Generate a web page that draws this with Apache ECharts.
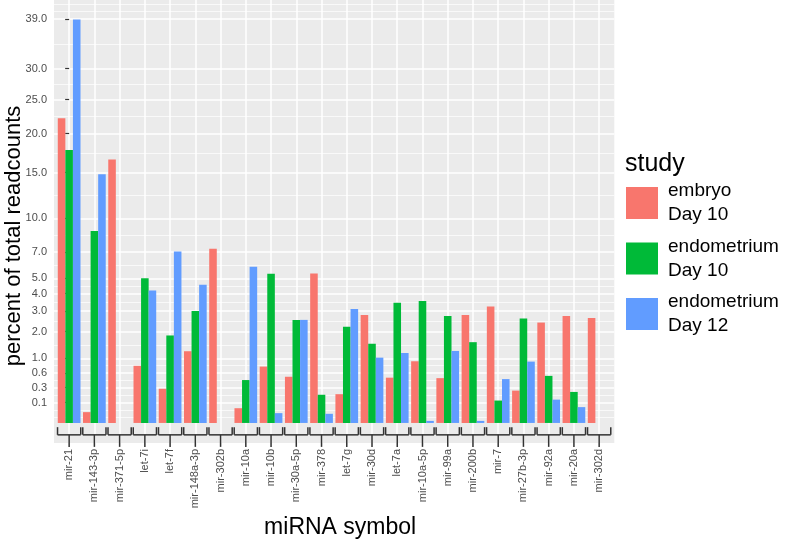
<!DOCTYPE html>
<html>
<head>
<meta charset="UTF-8">
<title>miRNA readcounts</title>
<script src="https://cdn.jsdelivr.net/npm/echarts@6/dist/echarts.min.js"></script>
<style>
  html, body { margin: 0; padding: 0; background: #fff; }
  #main { width: 786px; height: 541px; }
</style>
</head>
<body>
<div id="main"></div>
<script>
// categories on the x axis
var mirnas = ['mir-21', 'mir-143-3p', 'mir-371-5p', 'let-7i', 'let-7f', 'mir-148a-3p', 'mir-302b',
  'mir-10a', 'mir-10b', 'mir-30a-5p', 'mir-378', 'let-7g', 'mir-30d', 'let-7a', 'mir-10a-5p',
  'mir-99a', 'mir-200b', 'mir-7', 'mir-27b-3p', 'mir-92a', 'mir-20a', 'mir-302d'];

// percent of total readcounts (null = no bar)
var embryoDay10 = [22.2, 0.028, 16.6, 0.78, 0.28, 1.23, 7.25, 0.052, 0.76, 0.51, 5.34,
  0.198, 2.78, 0.49, 0.91, 0.48, 2.79, 3.24, 0.25, 2.41, 2.74, 2.63];
var endoDay10 = [17.8, 8.8, null, 5.01, 1.83, 2.99, null, 0.44, 5.32, 2.54, 0.19,
  2.21, 1.50, 3.45, 3.55, 2.73, 1.56, 0.12, 2.61, 0.53, 0.23, null];
var endoDay12 = [38.9, 14.8, null, 4.19, 7.02, 4.56, null, 5.83, 0.023, 2.54, 0.02,
  3.10, 1.02, 1.17, 0.001, 1.24, 0.001, 0.46, 0.90, 0.13, 0.06, null];

// y axis breaks (sqrt scale)
var yBreaks = [0.1, 0.3, 0.6, 1.0, 2.0, 3.0, 4.0, 5.0, 7.0, 10.0, 15.0, 20.0, 25.0, 30.0, 39.0];

var seriesNames = ['embryo\nDay 10', 'endometrium\nDay 10', 'endometrium\nDay 12'];
var colors = ['#F8766D', '#00BA38', '#619CFF'];

// sqrt transform, like scale_y_sqrt
var majorS = yBreaks.map(function (v) { return Math.sqrt(v); });
var minorS = [];
minorS.push(majorS[0] - (majorS[1] - majorS[0]));
minorS.push(majorS[0] - (majorS[1] - majorS[0]) / 2);
for (var i = 0; i < majorS.length - 1; i++) {
  minorS.push((majorS[i] + majorS[i + 1]) / 2);
}
minorS.push(Math.sqrt(40.6), Math.sqrt(42.0));

function toPairs(arr) {
  return arr.map(function (v, i) { return v == null ? [i, '-'] : [i, Math.sqrt(v)]; });
}

var catIdx = mirnas.map(function (c, i) { return i; });

var myChart = echarts.init(document.getElementById('main'));

var barSeries = [embryoDay10, endoDay10, endoDay12].map(function (arr, k) {
  return {
    name: seriesNames[k],
    type: 'bar',
    xAxisIndex: 0,
    yAxisIndex: 0,
    barGap: '0%',
    barCategoryGap: '10%',
    itemStyle: { color: colors[k] },
    data: toPairs(arr)
  };
});

// bracket under each group (the "|___|" marks with centre tick)
barSeries.push({
  type: 'custom',
  xAxisIndex: 0,
  yAxisIndex: 0,
  clip: false,
  silent: true,
  z: 5,
  data: catIdx,
  renderItem: function (params, api) {
    var i = api.value(0);
    var half = 0.46;
    var p1 = api.coord([i - half, -0.065]);
    var p2 = api.coord([i - half, -0.184]);
    var p3 = api.coord([i + half, -0.184]);
    var p4 = api.coord([i + half, -0.065]);
    var c2 = api.coord([i, -0.37]);
    var st = { stroke: '#333333', lineWidth: 1.5 };
    return {
      type: 'group',
      children: [
        { type: 'line', shape: { x1: p1[0], y1: p1[1], x2: p2[0], y2: p2[1] }, style: st },
        { type: 'line', shape: { x1: p2[0], y1: p2[1], x2: p3[0], y2: p3[1] }, style: st },
        { type: 'line', shape: { x1: p3[0], y1: p3[1], x2: p4[0], y2: p4[1] }, style: st },
        { type: 'line', shape: { x1: (p2[0] + p3[0]) / 2, y1: p2[1], x2: c2[0], y2: c2[1] }, style: st }
      ]
    };
  }
});

myChart.setOption({
  animation: false,
  textStyle: { fontFamily: 'Liberation Sans' },
  title: {
    text: 'study',
    left: 625,
    top: 152,
    padding: 0,
    textStyle: { fontSize: 25, fontWeight: 'normal', color: '#000', fontFamily: 'Liberation Sans' }
  },
  legend: {
    orient: 'vertical',
    left: 626,
    top: 179,
    padding: 0,
    itemWidth: 32,
    itemHeight: 32,
    itemGap: 7.5,
    icon: 'rect',
    data: seriesNames,
    textStyle: { fontSize: 19, lineHeight: 24, color: '#000', padding: [0, 0, 0, 5] }
  },
  graphic: [{
    type: 'text',
    x: 14,
    y: 236,
    rotation: Math.PI / 2,
    style: {
      text: 'percent of total readcounts',
      fontSize: 22,
      fontFamily: 'Liberation Sans',
      fill: '#000',
      align: 'center',
      verticalAlign: 'middle'
    }
  }],
  grid: {
    left: 54,
    top: 0,
    width: 560.3,
    height: 443,
    show: true,
    backgroundColor: '#EBEBEB',
    borderWidth: 0,
    containLabel: false,
    outerBoundsMode: 'none'
  },
  xAxis: {
    type: 'value',
    min: -0.6,
    max: 21.6,
    name: 'miRNA symbol',
    nameLocation: 'middle',
    nameGap: 73,
    nameTextStyle: { fontSize: 23, color: '#000', padding: [0, 0, 0, 12] },
    axisLine: { show: false },
    axisTick: { show: false, customValues: catIdx },
    axisLabel: {
      customValues: catIdx,
      rotate: 90,
      margin: 6,
      fontSize: 11,
      color: '#4D4D4D',
      formatter: function (v) { return mirnas[Math.round(v)]; }
    },
    splitLine: { show: true, lineStyle: { color: '#FFFFFF', width: 1.5 } }
  },
  yAxis: [{
    type: 'value',
    min: -0.31,
    max: 6.54,
    axisLine: { show: false },
    axisTick: { show: true, length: 4, customValues: majorS, lineStyle: { color: '#333333', width: 1.2 } },
    axisLabel: {
      customValues: majorS,
      margin: 7,
      fontSize: 11,
      color: '#4D4D4D',
      formatter: function (v) { return (v * v).toFixed(1); }
    },
    splitLine: { show: true, lineStyle: { color: '#FFFFFF', width: 1.5 } },
    z: 1
  }, {
    type: 'value',
    min: -0.31,
    max: 6.54,
    axisLine: { show: false },
    axisTick: { show: false, customValues: minorS },
    axisLabel: { show: false, customValues: minorS },
    splitLine: { show: true, lineStyle: { color: '#FFFFFF', width: 0.7 } },
    z: 0
  }],
  series: barSeries
});
</script>
</body>
</html>
